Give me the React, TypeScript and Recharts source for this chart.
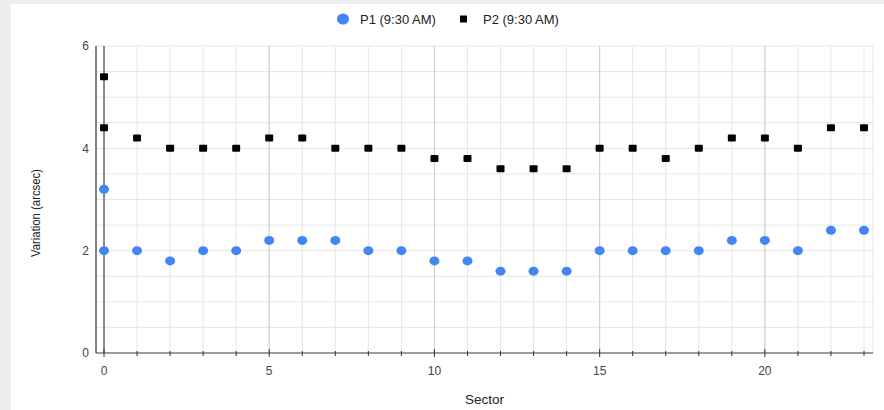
import React from 'react';
import {
  CartesianGrid,
  Legend,
  ReferenceLine,
  Scatter,
  ScatterChart,
  XAxis,
  YAxis,
} from 'recharts';

// sector index for every reading (sector 0 was measured twice)
const sectors = [0, 0, 1, 2, 3, 4, 5, 6, 7, 8, 9, 10, 11, 12, 13, 14, 15, 16, 17, 18, 19, 20, 21, 22, 23];
const p1Values = [3.2, 2.0, 2.0, 1.8, 2.0, 2.0, 2.2, 2.2, 2.2, 2.0, 2.0, 1.8, 1.8, 1.6, 1.6, 1.6, 2.0, 2.0, 2.0, 2.0, 2.2, 2.2, 2.0, 2.4, 2.4];
const p2Values = [5.4, 4.4, 4.2, 4.0, 4.0, 4.0, 4.2, 4.2, 4.0, 4.0, 4.0, 3.8, 3.8, 3.6, 3.6, 3.6, 4.0, 4.0, 3.8, 4.0, 4.2, 4.2, 4.0, 4.4, 4.4];

const seriesNames = ['P1 (9:30 AM)', 'P2 (9:30 AM)'];
const xTicks = [0, 1, 2, 3, 4, 5, 6, 7, 8, 9, 10, 11, 12, 13, 14, 15, 16, 17, 18, 19, 20, 21, 22, 23];
const xMajor = [5, 10, 15, 20];
const yTicks = [0, 0.5, 1, 1.5, 2, 2.5, 3, 3.5, 4, 4.5, 5, 5.5, 6];

const p1Data = sectors.map((s, i) => ({ sector: s, value: p1Values[i] }));
const p2Data = sectors.map((s, i) => ({ sector: s, value: p2Values[i] }));

const BLUE = '#4285f4';
const FONT = "'Liberation Sans', Arial, sans-serif";

const Dot = (props: any) => <ellipse cx={props.cx} cy={props.cy} rx={5} ry={4.5} fill={BLUE} />;
const Square = (props: any) => (
  <rect x={props.cx - 4} y={props.cy - 3.5} width={8} height={7} rx={1} fill="#000" />
);

const XTick = (props: any) => {
  const { x, y, payload } = props;
  const major = payload.value % 5 === 0;
  return (
    <g>
      <line x1={x} x2={x} y1={major ? y - 4 : y - 2} y2={major ? y + 4 : y + 3} stroke="#333" strokeWidth={1} />
      {major && (
        <text x={x} y={y + 22} textAnchor="middle" fontSize={12} fill="#444" fontFamily={FONT}>
          {payload.value}
        </text>
      )}
    </g>
  );
};

const LegendBox = () => (
  <svg width={873} height={30} style={{ display: 'block' }}>
    <ellipse cx={332} cy={15} rx={6} ry={5.5} fill={BLUE} />
    <text x={349} y={15} dominantBaseline="central" fontSize={13} fill="#222" fontFamily={FONT}>
      {seriesNames[0]}
    </text>
    <rect x={449} y={11.5} width={7} height={7} fill="#000" />
    <text x={472} y={15} dominantBaseline="central" fontSize={13} fill="#222" fontFamily={FONT}>
      {seriesNames[1]}
    </text>
  </svg>
);

export default function App() {
  return (
    <div style={{ position: 'absolute', left: 0, top: 0, width: 884, height: 410, background: '#eeeeee' }}>
      <div style={{ position: 'absolute', left: 11, top: 4, width: 873, height: 406, background: '#fff' }}>
        <ScatterChart width={873} height={406} margin={{ top: 12, right: 11, bottom: 0, left: 0 }}>
          <Legend verticalAlign="top" content={<LegendBox />} wrapperStyle={{ top: 0, left: 0, height: 30 }} />
          <CartesianGrid stroke="#e6e6e6" />
          {xMajor.map((v) => (
            <ReferenceLine key={v} x={v} stroke="#cfcfcf" />
          ))}
          <ReferenceLine x={0} stroke="#8a8a8a" strokeWidth={2} />
          <XAxis
            type="number"
            dataKey="sector"
            domain={[0, 23]}
            ticks={xTicks}
            interval={0}
            padding={{ left: 8, right: 9 }}
            height={57}
            tickSize={0}
            tickMargin={0}
            tickLine={false}
            stroke="#444"
            tick={<XTick />}
            label={{
              content: (p: any) => (
                <text
                  x={p.viewBox.x + p.viewBox.width / 2}
                  y={400}
                  textAnchor="middle"
                  fontSize={13.5}
                  fill="#222"
                  fontFamily={FONT}
                >
                  Sector
                </text>
              ),
            }}
          />
          <YAxis
            type="number"
            dataKey="value"
            domain={[0, 6]}
            ticks={yTicks}
            interval={0}
            width={85}
            tickLine={false}
            tickSize={6}
            tickMargin={1}
            stroke="#111"
            tick={{ fontSize: 12, fill: '#444', fontFamily: FONT }}
            tickFormatter={(v: number) => (v % 2 === 0 ? String(v) : '')}
            label={{
              content: () => (
                <text
                  x={24}
                  y={209}
                  transform="rotate(-90, 24, 209)"
                  textAnchor="middle"
                  dominantBaseline="central"
                  fontSize={13}
                  textLength={88}
                  lengthAdjust="spacingAndGlyphs"
                  fill="#222"
                  fontFamily={FONT}
                >
                  Variation (arcsec)
                </text>
              ),
            }}
          />
          <Scatter name={seriesNames[0]} data={p1Data} shape={<Dot />} isAnimationActive={false} />
          <Scatter name={seriesNames[1]} data={p2Data} shape={<Square />} isAnimationActive={false} />
        </ScatterChart>
      </div>
    </div>
  );
}
